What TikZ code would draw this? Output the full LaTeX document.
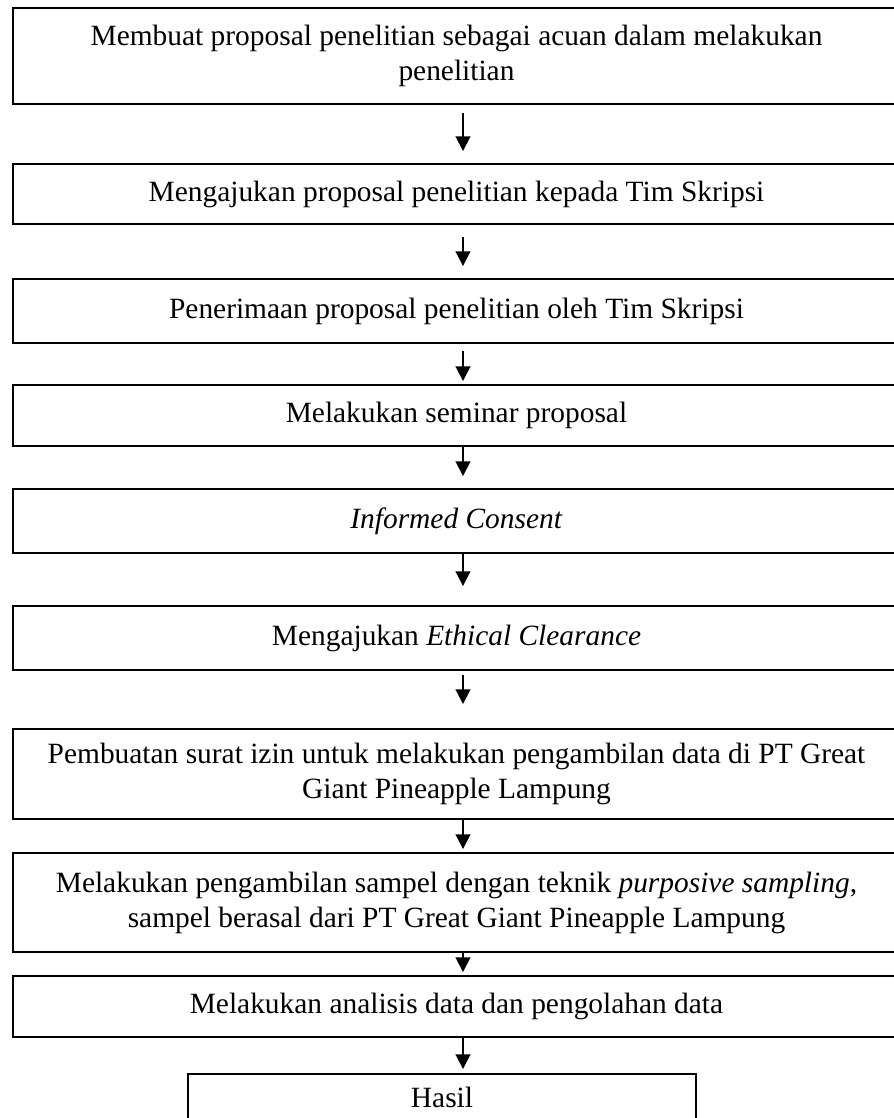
\documentclass[tikz,border=0pt]{standalone}
\usepackage{fontspec}
\setmainfont{Liberation Serif}
\usetikzlibrary{arrows.meta,positioning,calc}

\begin{document}
\begin{tikzpicture}[x=0.408pt, y=-0.408pt,
  stepbox/.style={draw=black, line width=0.8pt, fill=white, align=center, inner sep=0pt,
    minimum width={887*0.408pt}, font=\fontsize{12}{14.3}\selectfont},
  flowarrow/.style={draw=black, line width=0.8pt, -{Triangle[length=6pt, width=6pt]}}]

\path[use as bounding box, fill=white] (0,0) rectangle (894,1118);

\node[stepbox, minimum height={96*0.408pt}] (s1) at (456.5,56) {%
  Membuat proposal penelitian sebagai acuan dalam melakukan\\penelitian};

\node[stepbox, minimum height={60*0.408pt}] (s2) at (456.5,194) {%
  Mengajukan proposal penelitian kepada Tim Skripsi};

\node[stepbox, minimum height={64*0.408pt}] (s3) at (456.5,311) {%
  Penerimaan proposal penelitian oleh Tim Skripsi};

\node[stepbox, minimum height={61*0.408pt}] (s4) at (456.5,415.5) {%
  Melakukan seminar proposal};

\node[stepbox, minimum height={64*0.408pt}] (s5) at (456.5,521) {%
  \textit{Informed Consent}};

\node[stepbox, minimum height={64*0.408pt}] (s6) at (456.5,638) {%
  Mengajukan \textit{Ethical Clearance}};

\node[stepbox, minimum height={90*0.408pt}] (s7) at (456.5,774) {%
  Pembuatan surat izin untuk melakukan pengambilan data di PT Great\\Giant Pineapple Lampung};

\node[stepbox, minimum height={99*0.408pt}] (s8) at (456.5,902.5) {%
  Melakukan pengambilan sampel dengan teknik \textit{purposive sampling},\\sampel berasal dari PT Great Giant Pineapple Lampung};

\node[stepbox, minimum height={61*0.408pt}] (s9) at (456.5,1006.5) {%
  Melakukan analisis data dan pengolahan data};

\node[stepbox, minimum width={508*0.408pt}, minimum height={46*0.408pt}] (hasil) at (442,1097) {%
  Hasil};

% arrows run down a common line
\coordinate (ax) at (463,0);
\foreach \a/\b/\s/\e in {s1/s2/8/12, s2/s3/12/12, s3/s4/7/3, s4/s5/0/12, s5/s6/0/19,
                         s6/s7/4/24, s7/s8/0/3, s8/s9/0/3, s9/hasil/0/4}
  \draw[flowarrow] ($(\a.south -| ax)+(0,\s)$) -- ($(\b.north -| ax)-(0,\e)$);

\end{tikzpicture}
\end{document}
